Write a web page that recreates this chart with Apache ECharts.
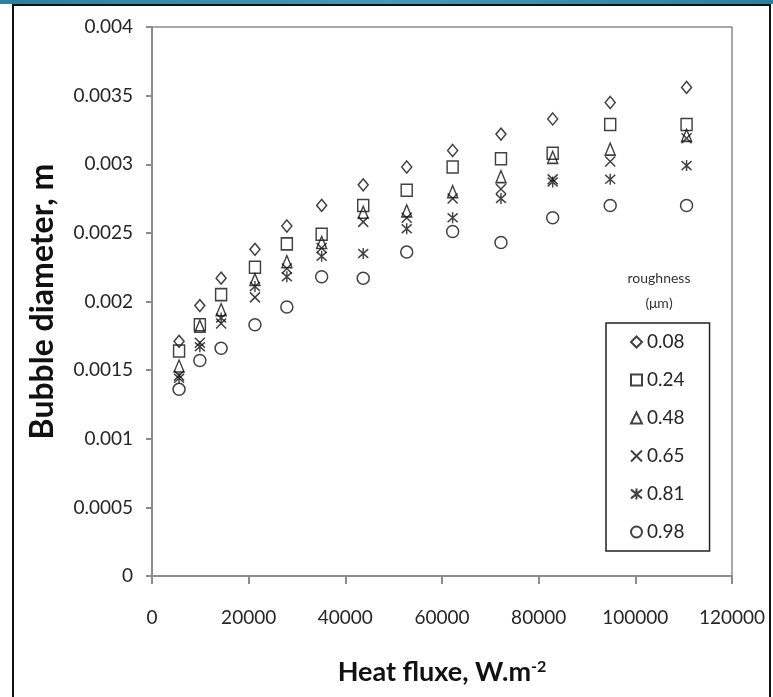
<!DOCTYPE html>
<html>
<head>
<meta charset="utf-8">
<script src="https://cdn.jsdelivr.net/npm/echarts@6/dist/echarts.min.js"></script>
<style>
html,body{margin:0;padding:0;background:#fff;}
#chart{width:773px;height:697px;}
</style>
</head>
<body>
<div id="chart"></div>
<script>
// Heat flux (W.m-2) for each measurement column
const heatFlux = [5600, 9900, 14300, 21300, 27900, 35100, 43700, 52700, 62200, 72200, 82900, 94800, 110600];
// Bubble diameter (m) per roughness
const r008 = [0.00171, 0.00197, 0.00217, 0.00238, 0.00255, 0.00270, 0.00285, 0.00298, 0.00310, 0.00322, 0.00333, 0.00345, 0.00356];
const r024 = [0.00164, 0.00183, 0.00205, 0.00225, 0.00242, 0.00249, 0.00270, 0.00281, 0.00298, 0.00304, 0.00308, 0.00329, 0.00329];
const r048 = [0.00153, 0.00182, 0.00194, 0.00216, 0.00229, 0.00243, 0.00265, 0.00266, 0.00280, 0.00291, 0.00305, 0.00311, 0.00321];
const r065 = [0.00146, 0.00170, 0.00184, 0.00203, 0.00224, 0.00239, 0.00258, 0.00261, 0.00275, 0.00282, 0.00289, 0.00302, 0.00319];
const r081 = [0.00144, 0.00167, 0.00188, 0.00211, 0.00218, 0.00233, 0.00235, 0.00253, 0.00261, 0.00275, 0.00287, 0.00289, 0.00299];
const r098 = [0.00136, 0.00157, 0.00166, 0.00183, 0.00196, 0.00218, 0.00217, 0.00236, 0.00251, 0.00243, 0.00261, 0.00270, 0.00270];
const seriesNames = ['0.08', '0.24', '0.48', '0.65', '0.81', '0.98'];
const seriesValues = [r008, r024, r048, r065, r081, r098];
const xTicks = [0, 20000, 40000, 60000, 80000, 100000, 120000];
const yTicks = [0, 0.0005, 0.001, 0.0015, 0.002, 0.0025, 0.003, 0.0035, 0.004];

const symbols = [
  'diamond',
  'rect',
  'triangle',
  'path://M0,0L10,10M10,0L0,10',
  'path://M0,1L10,9M10,1L0,9M5,0L5,10',
  'circle'
];
const sizes = [[10, 12], [11, 12], [10, 12], [10, 10], [10, 11], [12, 12]];
const FONT = 'Lato';

const chart = echarts.init(document.getElementById('chart'), null, {renderer: 'canvas'});
const series = seriesNames.map((name, i) => ({
  name: name,
  type: 'scatter',
  symbol: symbols[i],
  symbolSize: sizes[i],
  data: heatFlux.map((x, j) => [x, seriesValues[i][j]]),
  itemStyle: {color: 'rgba(0,0,0,0)', borderColor: '#111', borderWidth: 1.5},
  emphasis: {disabled: true},
  z: 3
}));

chart.setOption({
  animation: false,
  backgroundColor: '#fff',
  grid: {left: 152, top: 27, right: 41, bottom: 121, show: true, borderColor: '#8c8c8c', borderWidth: 1.5, backgroundColor: 'transparent'},
  xAxis: {
    type: 'value', min: xTicks[0], max: xTicks[xTicks.length - 1], interval: 20000,
    name: 'Heat fluxe, W.m{sup|-2}', nameLocation: 'middle', nameGap: 83,
    nameTextStyle: {fontFamily: FONT, fontSize: 27, fontWeight: 'bold', color: '#111',
      rich: {sup: {fontFamily: FONT, fontSize: 16, fontWeight: 'bold', color: '#111', verticalAlign: 'top', padding: [0, 0, 11, 0]}}},
    axisLine: {show: true, lineStyle: {color: '#8c8c8c', width: 2}},
    axisTick: {show: true, length: 8, lineStyle: {color: '#8c8c8c', width: 2}},
    axisLabel: {margin: 32, fontFamily: FONT, fontSize: 19, color: '#262626', formatter: v => String(v)},
    splitLine: {show: false}
  },
  yAxis: {
    type: 'value', min: yTicks[0], max: yTicks[yTicks.length - 1], interval: 0.0005,
    name: 'Bubble diameter, m', nameLocation: 'middle', nameGap: 93,
    nameTextStyle: {fontFamily: FONT, fontSize: 32, fontWeight: 'bold', color: '#111'},
    axisLine: {show: true, lineStyle: {color: '#8c8c8c', width: 2}},
    axisTick: {show: true, length: 6, lineStyle: {color: '#8c8c8c', width: 2}},
    axisLabel: {margin: 19, fontFamily: FONT, fontSize: 19, color: '#262626', formatter: v => String(+v.toFixed(4))},
    splitLine: {show: false}
  },
  legend: {
    orient: 'vertical', left: 606, top: 323,
    data: seriesNames,
    borderColor: '#222', borderWidth: 1.5,
    padding: [9, 25, 9, 24],
    itemGap: 18, itemWidth: 11, itemHeight: 11, itemTextGap: 9,
    textStyle: {fontFamily: FONT, fontSize: 19, lineHeight: 20, color: '#262626'},
    backgroundColor: '#fff'
  },
  graphic: [
    {type: 'rect', left: 0, top: 0, shape: {width: 773, height: 4}, style: {fill: new echarts.graphic.LinearGradient(0, 0, 1, 0, [{offset: 0, color: '#2f7f9b'}, {offset: 0.5, color: '#4a99b2'}, {offset: 1, color: '#2f7f9b'}])}, silent: true},
    {type: 'rect', shape: {x: 13, y: 5, width: 757, height: 700}, style: {fill: 'none', stroke: '#111', lineWidth: 2}, silent: true},
    {type: 'text', x: 659, y: 278, style: {text: 'roughness', fontFamily: FONT, fontSize: 14, fill: '#333', align: 'center', verticalAlign: 'middle'}, silent: true},
    {type: 'text', x: 659, y: 303, style: {text: '(μm)', fontFamily: FONT, fontSize: 14, fill: '#333', align: 'center', verticalAlign: 'middle'}, silent: true}
  ],
  series: series
});
</script>
</body>
</html>
